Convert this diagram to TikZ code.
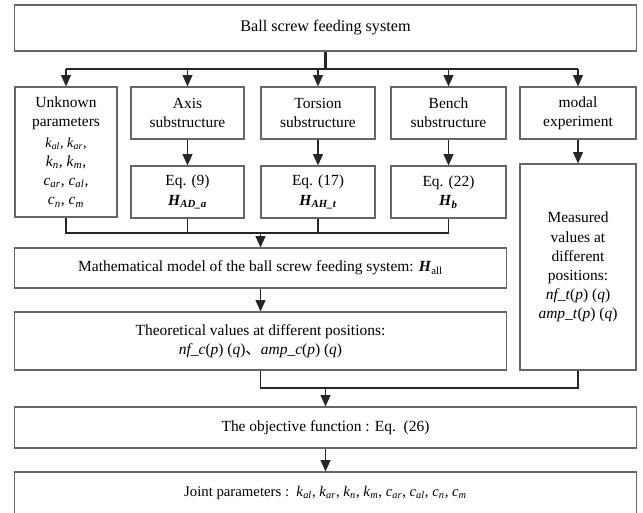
\documentclass[tikz,border=0pt]{standalone}
\usepackage{fontspec}
\setmainfont{Liberation Serif}
\newfontfamily\cjkfont{Noto Sans CJK SC}
\usetikzlibrary{arrows.meta, positioning, calc}

% italic symbol with italic subscript, bold-italic H
\newcommand{\kv}[2]{\textit{#1}\textsubscript{\textit{#2}}}
\newcommand{\Hv}[1]{\textbf{\textit{H}}\textsubscript{\textbf{\textit{#1}}}}

\begin{document}
\begin{tikzpicture}[
  x=0.025cm, y=-0.025cm,
  every node/.style = {font=\fontsize{11}{13.6}\selectfont},
  box/.style   = {draw=black!60, line width=0.8pt, fill=white,
                  inner sep=1pt, align=center},
  wide/.style  = {box, minimum width=15.525cm},
  col/.style   = {box, minimum width=2.85cm, minimum height=1.3cm},
  wire/.style  = {line width=0.9pt, black!85},
  arr/.style   = {wire, -{Triangle[width=7pt,length=8pt]}},
  trunk/.style = {line width=1.7pt, black!85},
  small/.style = {font=\fontsize{10.5}{12.5}\selectfont},
]
\useasboundingbox (0,0) rectangle (643,512);

% Row y-positions (px)
\def\ySplit{69}
\def\yJoin{233}
\def\yMerge{388}

% ── TOP ─────────────────────────────────────────────────────────────────────
\node[wide, minimum height=1.15cm, font=\fontsize{11.5}{14}\selectfont]
  (top) at (325.5,28) {Ball screw feeding system};
\coordinate (split) at (325.5,\ySplit);

% ── FIRST ROW ───────────────────────────────────────────────────────────────
\node[box, minimum width=2.55cm, minimum height=3.25cm] (unk) at (66,152)
  {Unknown\\parameters\\[1pt]
   \fontsize{10}{12.4}\selectfont \kv{k}{al}, \kv{k}{ar},\\
   \kv{k}{n}, \kv{k}{m},\\
   \kv{c}{ar}, \kv{c}{al},\\
   \kv{c}{n}, \kv{c}{m}};
\node[col, minimum width=2.825cm] (axis) at (187.5,113) {Axis\\substructure};
\node[col] (tors) at (318,113) {Torsion\\substructure};
\node[col, minimum width=2.875cm] (bench) at (448.5,113) {Bench\\substructure};
\node[col, minimum width=2.9cm] (modal) at (578,113) {modal\\experiment};

% ── SECOND ROW ──────────────────────────────────────────────────────────────
\node[col, minimum width=2.825cm] (eq9) at (187.5,192) {Eq. (9)\\\Hv{AD\_a}};
\node[col] (eq17) at (318,192) {Eq. (17)\\\Hv{AH\_t}};
\node[col, minimum width=2.875cm] (eq22) at (448.5,192) {Eq. (22)\\\Hv{b}};
\node[box, minimum width=2.9cm, minimum height=5.15cm] (meas) at (578,267)
  {Measured\\values at\\different\\positions:\\
   \textit{nf\_t}(\textit{p}) (\textit{q})\\
   \textit{amp\_t}(\textit{p}) (\textit{q})};

% ── MODEL AND THEORY ────────────────────────────────────────────────────────
\node[box, minimum width=12.275cm, minimum height=1cm] (model) at (260.5,268)
  {Mathematical model of the ball screw feeding system:
   \textbf{\textit{H}}\textsubscript{all}};
\node[box, minimum width=12.275cm, minimum height=1.45cm] (theo) at (260.5,341)
  {Theoretical values at different positions:\\
   \textit{nf\_c}(\textit{p}) (\textit{q})\cjkfont 、\normalfont\textit{amp\_c}(\textit{p}) (\textit{q})};

% ── OBJECTIVE AND RESULT ────────────────────────────────────────────────────
\node[wide, minimum height=1.025cm] (obj) at (325.5,427.5)
  {The objective function : Eq.~~(26)};
\node[wide, minimum height=1.05cm, small] (joint) at (325.5,493)
  {Joint parameters :~~\kv{k}{al}, \kv{k}{ar}, \kv{k}{n}, \kv{k}{m},
   \kv{c}{ar}, \kv{c}{al}, \kv{c}{n}, \kv{c}{m}};

% ── CONNECTORS ──────────────────────────────────────────────────────────────
\draw[trunk] (top.south) -- (split);
\draw[wire] (unk.north |- split) -- (modal.north |- split);
\foreach \n in {unk, axis, tors, bench, modal}
  \draw[arr] (\n.north |- split) -- (\n.north);

\draw[arr] (axis)  -- (eq9);
\draw[arr] (tors)  -- (eq17);
\draw[arr] (bench) -- (eq22);
\draw[arr] (modal) -- (meas);

% join into the model
\coordinate (join) at (0,\yJoin);
\draw[wire] (unk.south) -- (unk.south |- join) -- (eq22.south |- join)
            -- (eq22.south);
\draw[wire] (eq9.south)  -- (eq9.south |- join);
\draw[wire] (eq17.south) -- (eq17.south |- join);
\draw[arr]  (model.north |- join) -- (model.north);

\draw[arr] (model) -- (theo);

% merge into the objective
\coordinate (merge) at (0,\yMerge);
\draw[wire] (theo.south) -- (theo.south |- merge) -- (meas.south |- merge)
            -- (meas.south);
\draw[arr]  (obj.north |- merge) -- (obj.north);

\draw[arr] (obj) -- (joint);

\end{tikzpicture}
\end{document}
